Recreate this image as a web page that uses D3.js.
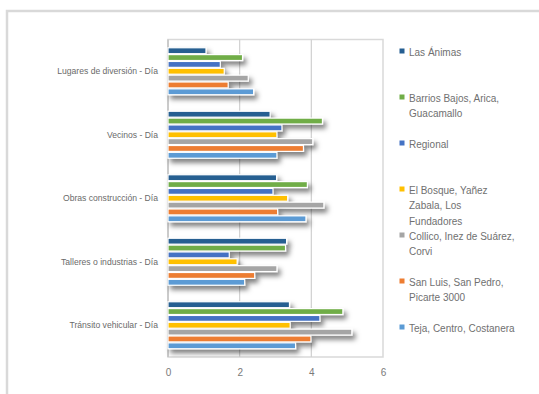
<!DOCTYPE html>
<html><head><meta charset="utf-8">
<script src="https://cdn.jsdelivr.net/npm/d3@7"></script>
<style>body{margin:0;background:#fff}svg{display:block;font-family:"Liberation Sans",Arial,sans-serif}</style>
</head><body><svg id="c" width="539" height="394"></svg>
<script>
const categories = ["Lugares de diversión - Día","Vecinos - Día","Obras construcción - Día","Talleres o industrias - Día","Tránsito vehicular - Día"];
const seriesNames = ["Las Ánimas","Barrios Bajos, Arica, Guacamallo","Regional","El Bosque, Yañez Zabala, Los Fundadores","Collico, Inez de Suárez, Corvi","San Luis, San Pedro, Picarte 3000","Teja, Centro, Costanera"];
const legendLines = [["Las Ánimas"],["Barrios Bajos, Arica,","Guacamallo"],["Regional"],["El Bosque, Yañez","Zabala, Los","Fundadores"],["Collico, Inez de Suárez,","Corvi"],["San Luis, San Pedro,","Picarte 3000"],["Teja, Centro, Costanera"]];
const seriesColors = ["#255e91","#70ad47","#4472c4","#ffc000","#a5a5a5","#ed7d31","#5b9bd5"];
// values[series][category]
const lasAnimas = [1.06,2.85,3.03,3.31,3.39];
const barrios   = [2.08,4.31,3.89,3.28,4.88];
const regional  = [1.46,3.18,2.93,1.71,4.24];
const elBosque  = [1.57,3.04,3.34,1.93,3.41];
const collico   = [2.24,4.04,4.35,3.04,5.13];
const sanLuis   = [1.68,3.78,3.06,2.42,3.99];
const teja      = [2.39,3.04,3.85,2.14,3.56];
const seriesValues = [lasAnimas,barrios,regional,elBosque,collico,sanLuis,teja];
const xTicks = [0,2,4,6];

const svg = d3.select("#c");
const defs = svg.append("defs");
const f = defs.append("filter").attr("id","sh").attr("x","-10%").attr("y","-80%").attr("width","130%").attr("height","360%");
f.append("feDropShadow").attr("dx",3).attr("dy",4).attr("stdDeviation",2.4).attr("flood-color","#000").attr("flood-opacity",0.5);

// outer frame (top & left)
svg.append("path").attr("d","M7,400 V11 H545").attr("fill","none").attr("stroke","#d9d9d9").attr("stroke-width",2.5);

const L=168, R=383, T=39.5, B=357;
const x = d3.scaleLinear().domain([0,6]).range([L,R]);
const y = d3.scaleBand().domain(categories).range([T,B]).paddingInner(0.23).paddingOuter(0.115);
const ys = d3.scaleBand().domain(d3.range(seriesNames.length)).range([0,y.bandwidth()]).padding(0.14);

// plot border
svg.append("rect").attr("x",L).attr("y",T).attr("width",R-L).attr("height",B-T).attr("fill","none").attr("stroke","#d9d9d9").attr("stroke-width",1.5);
// gridlines
svg.append("g").selectAll("line").data(xTicks.slice(1,-1)).join("line")
  .attr("x1",d=>x(d)).attr("x2",d=>x(d)).attr("y1",T).attr("y2",B).attr("stroke","#d0d0d0").attr("stroke-width",1.2);
svg.append("line").attr("x1",L).attr("x2",L).attr("y1",T).attr("y2",B).attr("stroke","#bfbfbf").attr("stroke-width",1.3);

// bars
const g = svg.append("g");
categories.forEach((c,ci)=>{
  seriesNames.forEach((s,si)=>{
    g.append("rect")
      .attr("x",x(0)).attr("y",y(c)+ys(si))
      .attr("width",x(seriesValues[si][ci])-x(0)).attr("height",ys.bandwidth())
      .attr("fill",seriesColors[si]).attr("stroke","#fff").attr("stroke-width",1.2)
      .attr("filter","url(#sh)");
  });
});

// x axis labels
const xa = svg.append("g").attr("transform",`translate(0,${B})`)
  .call(d3.axisBottom(x).tickValues(xTicks).tickFormat(d3.format("d")).tickSize(0).tickPadding(12));
xa.select(".domain").remove();
xa.selectAll("text").attr("fill","#7a7a7a").attr("font-size",10).attr("font-family","Liberation Sans, Arial, sans-serif");

// y axis labels
const ya = svg.append("g").attr("transform",`translate(${L},0)`)
  .call(d3.axisLeft(y).tickSize(0).tickPadding(10));
ya.select(".domain").remove();
ya.selectAll("text").attr("fill","#6a6a6a").attr("font-size",8.6).attr("font-family","Liberation Sans, Arial, sans-serif");

// legend
const lg = svg.append("g");
seriesNames.forEach((s,i)=>{
  const yy = 52 + i*46;
  lg.append("rect").attr("x",399.5).attr("y",yy-3.5).attr("width",5).attr("height",5).attr("fill",seriesColors[i]);
  const t = lg.append("text").attr("x",409).attr("y",yy).attr("dy","0.35em")
    .attr("font-size",10).attr("fill","#707070");
  legendLines[i].forEach((ln,k)=>{
    t.append("tspan").attr("x",409).attr("dy",k===0?"0.35em":"15.5").text(ln);
  });
});
</script></body></html>
